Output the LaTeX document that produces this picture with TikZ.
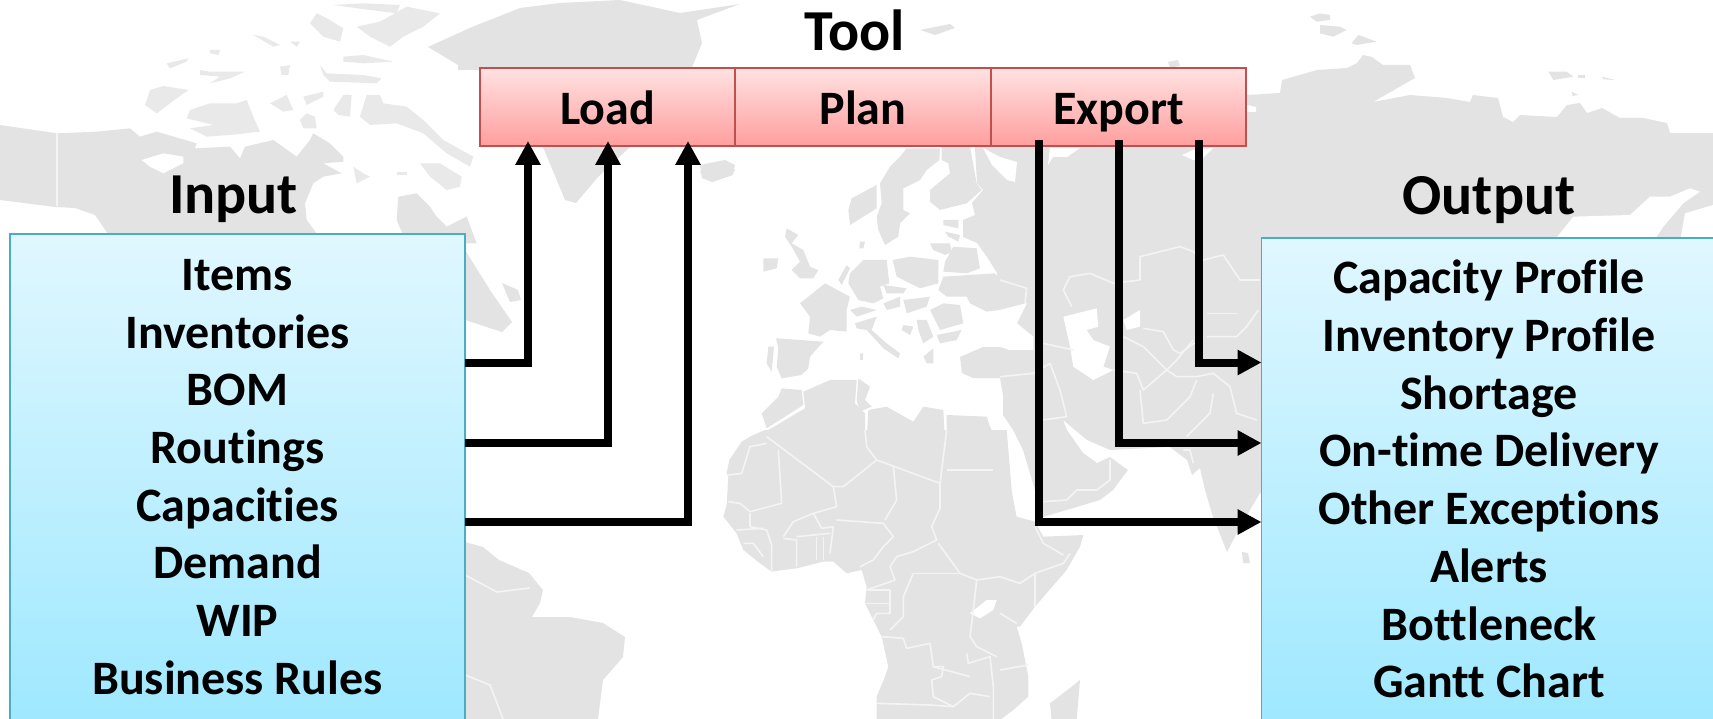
\documentclass[tikz,border=0pt]{standalone}
\usepackage{fontspec}
\setmainfont[Ligatures=CommonOff]{Carlito}
\usetikzlibrary{positioning,arrows.meta}
\definecolor{landgray}{HTML}{E3E3E3}
\definecolor{isle}{HTML}{E9E9E9}
\definecolor{bordergray}{HTML}{F4F4F4}
\definecolor{boxblue}{HTML}{4BACC6}
\definecolor{boxred}{HTML}{C0504D}
\definecolor{bluetop}{HTML}{E0F7FF}
\definecolor{bluebottom}{HTML}{9EE8FF}
\definecolor{redtop}{HTML}{FFE2E2}
\definecolor{redbottom}{HTML}{FF9E9E}
\tikzset{
land/.style={fill=landgray,draw=none},
speck/.style={fill=isle,draw=none},
sea/.style={fill=white,draw=none},
frontier/.style={draw=bordergray,line width=1.6pt,line join=round},
head/.style={font=\fontsize{58}{68}\selectfont\bfseries,inner sep=0pt,anchor=base},
cell/.style={
  minimum width=255.5pt,
  minimum height=78pt,
  inner sep=0pt,
  outer sep=0pt,
  text height=42pt,
  text depth=6pt,
  draw=boxred,
  line width=1.8pt,
  top color=redtop,
  bottom color=redbottom,
  font=\fontsize{48}{57}\selectfont\bfseries,
},
listbox/.style={
  minimum width=455pt,
  inner sep=0pt,
  outer sep=0pt,
  draw=boxblue,
  line width=1.8pt,
  top color=bluetop,
  bottom color=bluebottom,
},
listing/.style={
  font=\fontsize{48}{57.7}\selectfont\bfseries,
  align=center,
  inner sep=0pt,
  anchor=north,
},
flow/.style={line width=8pt,-{Triangle[length=24pt,width=24pt]}},
}
\begin{document}
\begin{tikzpicture}[x=1pt,y=-1pt]
\useasboundingbox (0,0) rectangle (1713,719);
\clip (0,0) rectangle (1713,719);
% north america and the arctic
\begin{scope}[shift={(130,0)},scale=1/3]
  \fill[land] (-390,375) -- (-219,400) -- (-100,395) -- (0,385) -- (30,410) -- (80,395) -- (200,430)
    -- (195,445) -- (300,440) -- (330,475) -- (345,440) -- (430,420) -- (500,470) -- (540,420)
    -- (550,400) -- (600,430) -- (640,470) -- (640,485) -- (580,490) -- (635,520) -- (580,530)
    -- (550,550) -- (525,610) -- (530,660) -- (560,700) -- (560,730) -- (-66,730) -- (-66,702)
    -- (-105,645) -- (-165,624) -- (-225,621) -- (-390,600) -- cycle;
  \fill[sea] (35,480) -- (100,460) -- (160,470) -- (160,490) -- (100,520) -- (60,500) -- cycle;
  \draw[frontier] (-219,400) -- (-219,618);
  \fill[speck] (45,315) -- (60,270) -- (100,258) -- (175,270) -- (120,310) -- (80,340) -- cycle;
  \fill[speck] (180,330) -- (240,310) -- (320,310) -- (350,300) -- (370,350) -- (390,395) -- (300,405)
    -- (230,410) -- (180,385) -- (250,375) -- (170,355) -- cycle;
  \fill[speck] (110,190) -- (175,175) -- (170,185) -- (120,205) -- cycle;
  \fill[speck] (210,210) -- (240,215) -- (345,215) -- (300,235) -- (240,250) -- (270,230) -- (210,225) -- cycle;
  \fill[speck] (240,150) -- (270,150) -- (265,165) -- (240,160) -- cycle;
  \fill[speck] (440,300) -- (470,285) -- (490,330) -- (460,335) -- (420,310) -- cycle;
  \fill[speck] (520,290) -- (580,275) -- (580,290) -- (530,315) -- cycle;
  \fill[speck] (510,360) -- (530,340) -- (555,350) -- (560,385) -- (520,385) -- cycle;
  \fill[speck] (610,330) -- (640,285) -- (665,285) -- (660,350) -- (625,345) -- cycle;
  \fill[speck] (690,350) -- (710,285) -- (750,285) -- (760,310) -- (830,320) -- (880,360) -- (940,420)
    -- (1030,470) -- (1020,500) -- (950,460) -- (880,400) -- (800,370) -- (720,375) -- cycle;
  \fill[speck] (870,490) -- (930,490) -- (995,530) -- (990,560) -- (950,570) -- (900,530) -- cycle;
  \fill[speck] (570,195) -- (590,220) -- (700,225) -- (755,235) -- (740,250) -- (600,245) -- (580,225) -- cycle;
  \fill[speck] (450,200) -- (480,195) -- (475,225) -- (455,225) -- cycle;
  \fill[speck] (540,70) -- (560,40) -- (600,60) -- (640,85) -- (630,125) -- (580,110) -- cycle;
  \fill[speck] (610,15) -- (700,10) -- (810,15) -- (800,40) -- (720,30) -- cycle;
  \fill[speck] (680,80) -- (750,65) -- (830,20) -- (930,40) -- (880,80) -- (820,110) -- (780,140) -- (720,110) -- cycle;
  \fill[speck] (640,170) -- (700,165) -- (790,185) -- (700,190) -- (640,185) -- cycle;
  \fill[speck] (480,125) -- (510,125) -- (500,140) -- cycle;
  \fill[speck] (370,105) -- (400,110) -- (450,135) -- (430,140) -- cycle;
  \fill[speck] (670,500) -- (700,520) -- (720,530) -- (680,550) -- cycle;
  \fill[speck] (800,515) -- (830,515) -- (830,525) -- (800,525) -- cycle;
  \fill[land] (805,590) -- (860,580) -- (900,620) -- (920,650) -- (950,680) -- (1010,650) -- (1040,730)
    -- (830,730) -- (800,660) -- cycle;
\end{scope}
% greenland and the atlantic side
\fill[land] (428,47) -- (472,27) -- (520,8) -- (560,3) -- (620,0) -- (680,13) -- (740,4) -- (697,20) -- (702,43)
  -- (691,70) -- (458,70) -- (458,65) -- cycle;
\fill[land] (543,147) -- (565,200) -- (576,203) -- (598,177) -- (630,147) -- cycle;
\fill[land] (700,165) -- (725,160) -- (735,165) -- (733,175) -- (712,182) -- (702,178) -- cycle;
\fill[land] (465,250) -- (490,290) -- (512,322) -- (502,332) -- (465,320) -- cycle;
\fill[land] (502,283) -- (518,290) -- (521,300) -- (510,302) -- cycle;
% south america
\fill[land] (465,542) -- (483,547) -- (499,560) -- (529,573) -- (543,590) -- (540,603) -- (532,617) -- (570,617)
  -- (603,623) -- (625,637) -- (623,657) -- (603,680) -- (598,719) -- (465,719) -- cycle;
\draw[frontier] (465,575) -- (497,592) -- (530,588);
\draw[frontier] (465,675) -- (490,685) -- (503,719);
% eurasia
\fill[land] (975,140) -- (975,148) -- (977,183) -- (983,190) -- (972,203) -- (975,215) -- (963,220) -- (963,237)
  -- (977,243) -- (987,257) -- (997,273) -- (1000,310) -- (1027,303) -- (1017,323) -- (1033,337) -- (1033,350)
  -- (1010,350) -- (1000,347) -- (983,347) -- (960,357) -- (962,373) -- (973,378) -- (1000,378) -- (1003,395)
  -- (1003,415) -- (1013,430) -- (1023,450) -- (1035,490) -- (1043,517) -- (1100,500) -- (1113,490) -- (1128,470)
  -- (1110,457) -- (1097,463) -- (1083,453) -- (1067,430) -- (1063,420) -- (1087,440) -- (1110,450) -- (1170,447)
  -- (1187,460) -- (1192,475) -- (1200,468) -- (1205,490) -- (1213,517) -- (1227,552) -- (1240,527) -- (1260,493)
  -- (1270,490) -- (1713,490) -- (1713,133) -- (1670,133) -- (1667,123) -- (1643,118) -- (1620,118) -- (1602,108)
  -- (1587,113) -- (1580,103) -- (1567,105) -- (1557,117) -- (1520,115) -- (1513,122) -- (1503,117) -- (1498,98)
  -- (1473,95) -- (1470,102) -- (1447,98) -- (1410,95) -- (1373,102) -- (1415,78) -- (1410,65) -- (1383,65)
  -- (1372,57) -- (1363,55) -- (1357,63) -- (1347,68) -- (1317,70) -- (1282,80) -- (1280,93) -- (1247,95)
  -- (1130,100) -- cycle;
% inner seas
\fill[sea] (983,148) -- (1000,157) -- (1017,162) -- (1015,182) -- (1007,180) -- (1000,173) -- (992,165) -- cycle;
\fill[sea] (1050,148) -- (1080,148) -- (1067,157) -- (1053,157) -- (1048,165) -- cycle;
\fill[sea] (1182,155) -- (1193,160) -- (1203,158) -- (1213,148) -- (1193,150) -- cycle;
\fill[sea] (1247,105) -- (1256,107) -- (1256,112) -- (1247,112) -- cycle;
\begin{scope}[shift={(1000,140)},scale=1/3]
  \fill[sea] (0,510) -- (80,490) -- (50,550) -- (100,590) -- (100,630) -- (30,630) -- (0,620) -- cycle;
  \fill[sea] (190,530) -- (290,505) -- (295,560) -- (260,570) -- (280,600) -- (330,620) -- (310,680) -- (340,690)
    -- (280,720) -- (220,680) -- (210,620) -- cycle;
  \fill[sea] (370,540) -- (420,510) -- (420,560) -- (380,570) -- cycle;
  \draw[frontier] (190,450) -- (210,410) -- (270,400) -- (340,430) -- (420,420) -- (420,350) -- (540,320)
    -- (580,335) -- (610,360) -- (670,345) -- (720,420) -- (780,420);
  \draw[frontier] (190,450) -- (215,500);
  \draw[frontier] (370,590) -- (430,620) -- (500,690) -- (530,660) -- (580,600);
  \draw[frontier] (430,565) -- (490,575) -- (520,630) -- (540,640) -- (610,590);
  \draw[frontier] (0,420) -- (80,445) -- (75,490);
  \draw[frontier] (620,520) -- (710,520);
  \draw[frontier] (620,590) -- (710,590) -- (740,560) -- (775,510);
  \draw[frontier] (340,690) -- (410,700) -- (430,750) -- (500,690) -- (530,710) -- (590,710) -- (640,700)
    -- (690,740) -- (710,820) -- (770,840);
  \draw[frontier] (590,720) -- (570,770) -- (500,840) -- (430,850) -- (420,750);
  \draw[frontier] (150,670) -- (180,750) -- (200,830) -- (130,840);
  \draw[frontier] (0,710) -- (100,700) -- (150,670);
  \draw[frontier] (640,760) -- (630,820) -- (560,890);
  \draw[frontier] (130,610) -- (220,630);
  % south of the gulf
  \draw[frontier] (130,1085) -- (200,1080) -- (230,1050) -- (290,1050) -- (330,1020) -- (330,960);
  \draw[frontier] (550,930) -- (570,930) -- (580,970);
\end{scope}
% europe
\begin{scope}[shift={(700,140)},scale=1/3]
  \fill[land] (0,95) -- (30,75) -- (80,70) -- (105,90) -- (90,105) -- (40,125) -- (10,115) -- cycle;
  \fill[land] (260,265) -- (295,285) -- (275,310) -- (310,330) -- (330,380) -- (355,390) -- (340,415) -- (300,415)
    -- (275,390) -- (300,365) -- (275,320) -- (255,290) -- cycle;
  \fill[land] (190,355) -- (235,355) -- (230,385) -- (190,395) -- cycle;
  \fill[land] (620,25) -- (720,25) -- (718,60) -- (680,90) -- (660,120) -- (610,145) -- (610,210) -- (630,220)
    -- (600,250) -- (595,290) -- (555,315) -- (535,270) -- (530,230) -- (545,190) -- (540,130) -- (570,80) -- (600,50) -- cycle;
  \fill[land] (455,175) -- (530,135) -- (530,205) -- (450,255) -- (445,210) -- cycle;
  \fill[land] (725,20) -- (810,20) -- (830,130) -- (845,150) -- (800,190) -- (720,210) -- (690,185) -- (690,150)
    -- (750,100) -- (745,70) -- (725,60) -- cycle;
  \fill[land] (715,450) -- (730,410) -- (885,400) -- (900,420) -- (900,510) -- (860,515) -- (810,490) -- (800,470)
    -- (740,470) -- cycle;
  \fill[land] (730,240) -- (775,240) -- (775,265) -- (730,255) -- cycle;
  \fill[land] (735,275) -- (780,285) -- (775,305) -- (745,290) -- cycle;
  \fill[land] (690,310) -- (750,310) -- (755,335) -- (735,345) -- (700,330) -- cycle;
  \fill[land] (735,365) -- (760,320) -- (830,325) -- (840,385) -- (800,400) -- (730,395) -- cycle;
  \fill[land] (578,360) -- (630,350) -- (715,360) -- (715,430) -- (660,445) -- (590,410) -- cycle;
  \fill[land] (450,400) -- (490,360) -- (560,360) -- (568,430) -- (540,440) -- (550,475) -- (520,490) -- (475,480) -- (445,430) -- cycle;
  \fill[land] (300,490) -- (375,430) -- (450,470) -- (440,510) -- (440,575) -- (390,570) -- (360,590) -- (325,580) -- (330,530) -- cycle;
  \fill[land] (228,595) -- (370,605) -- (330,650) -- (325,685) -- (305,705) -- (245,715) -- (230,680) -- (235,625) -- cycle;
  \fill[land] (205,620) -- (222,620) -- (215,695) -- (200,670) -- cycle;
  \fill[land] (465,550) -- (530,530) -- (515,570) -- (560,610) -- (600,640) -- (595,655) -- (550,625) -- (500,570) -- (470,565) -- cycle;
  \fill[land] (450,510) -- (485,500) -- (530,510) -- (470,530) -- cycle;
  \fill[land] (610,555) -- (640,560) -- (630,585) -- (605,570) -- cycle;
  \fill[land] (650,540) -- (680,540) -- (700,590) -- (670,610) -- (655,570) -- cycle;
  \fill[land] (550,490) -- (600,470) -- (600,500) -- (560,510) -- cycle;
  \fill[land] (550,435) -- (620,445) -- (610,460) -- (560,460) -- cycle;
  \fill[land] (610,480) -- (690,470) -- (680,500) -- (620,520) -- cycle;
  \fill[land] (690,510) -- (730,490) -- (780,495) -- (790,550) -- (720,570) -- cycle;
  \fill[land] (710,585) -- (785,570) -- (770,600) -- (720,610) -- cycle;
  \fill[land] (670,650) -- (700,625) -- (700,670) -- (680,670) -- cycle;
  \fill[land] (480,305) -- (495,305) -- (490,325) -- (478,325) -- cycle;
  \fill[land] (415,420) -- (440,375) -- (450,385) -- (425,435) -- cycle;
  \fill[land] (480,640) -- (490,640) -- (488,660) -- (480,660) -- cycle;
  % north of africa
  \fill[land] (245,745) -- (305,750) -- (310,795) -- (200,865) -- (185,820) -- (235,770) -- cycle;
  \fill[land] (310,755) -- (390,720) -- (470,720) -- (465,790) -- (495,820) -- (495,900) -- (205,900) -- (205,870) -- (315,805) -- cycle;
  \fill[land] (475,715) -- (510,740) -- (495,780) -- (515,800) -- (480,815) -- (470,780) -- cycle;
  \fill[land] (505,810) -- (560,800) -- (640,845) -- (670,800) -- (730,810) -- (735,900) -- (500,900) -- cycle;
  \fill[land] (740,825) -- (860,830) -- (870,860) -- (890,900) -- (740,900) -- cycle;
\end{scope}
% africa
\begin{scope}[shift={(700,430)},scale=1/3]
  \fill[land] (80,130) -- (88,90) -- (125,35) -- (150,20) -- (195,0) -- (880,0) -- (920,0) -- (935,180) -- (940,210)
    -- (950,260) -- (1005,275) -- (1030,320) -- (1150,315) -- (1140,350) -- (1100,420) -- (1005,530) -- (960,590)
    -- (950,590) -- (965,640) -- (975,690) -- (985,740) -- (985,800) -- (940,840) -- (900,870) -- (530,870)
    -- (530,800) -- (555,740) -- (565,710) -- (545,620) -- (520,570) -- (495,520) -- (500,470) -- (485,420)
    -- (440,430) -- (400,395) -- (370,395) -- (290,415) -- (215,425) -- (180,400) -- (130,360) -- (110,310)
    -- (70,260) -- (80,225) -- (85,140) -- cycle;
  \fill[land] (1050,820) -- (1115,770) -- (1140,750) -- (1135,810) -- (1130,870) -- (1055,870) -- cycle;
  \fill[sea] (810,550) -- (860,510) -- (890,510) -- (880,540) -- (840,565) -- cycle;
  \draw[frontier] (200,20) -- (400,170) -- (410,230) -- (340,250) -- (280,275) -- (250,320);
  \draw[frontier] (235,60) -- (245,220) -- (150,245) -- (120,220) -- (85,215);
  \draw[frontier] (400,170) -- (430,170) -- (530,90) -- (500,50) -- (495,0);
  \draw[frontier] (530,90) -- (720,160) -- (740,0);
  \draw[frontier] (740,120) -- (880,120);
  \draw[frontier] (580,110) -- (590,210) -- (555,270);
  \draw[frontier] (720,160) -- (720,235) -- (695,290) -- (710,330) -- (640,365) -- (590,380) -- (570,410) -- (585,450) -- (500,480);
  \draw[frontier] (715,340) -- (780,430) -- (830,450) -- (820,540) -- (810,620) -- (830,650) -- (890,680);
  \draw[frontier] (640,430) -- (780,430);
  \draw[frontier] (640,430) -- (610,500) -- (610,560) -- (570,600);
  \draw[frontier] (410,270) -- (550,280) -- (580,320) -- (550,350) -- (520,390) -- (480,410);
  \draw[frontier] (400,290) -- (390,370);
  \draw[frontier] (85,135) -- (125,130) -- (150,50) -- (200,40);
  \draw[frontier] (150,250) -- (150,290) -- (200,300) -- (215,345) -- (215,425);
  \draw[frontier] (250,325) -- (290,330) -- (290,410);
  \draw[frontier] (350,320) -- (350,390);
  \draw[frontier] (370,320) -- (370,390);
  \draw[frontier] (290,320) -- (390,310);
  \draw[frontier] (340,250) -- (365,295) -- (400,290);
  \draw[frontier] (110,300) -- (190,295);
  \draw[frontier] (130,340) -- (160,340) -- (190,380);
  \draw[frontier] (545,620) -- (610,625) -- (620,655) -- (690,640) -- (700,710) -- (810,740);
  \draw[frontier] (700,710) -- (730,710) -- (725,740) -- (695,750) -- (700,800) -- (760,830) -- (810,790) -- (870,800);
  \draw[frontier] (530,820) -- (690,825) -- (760,830);
  \draw[frontier] (800,670) -- (805,700) -- (870,680) -- (880,770) -- (880,870);
  \draw[frontier] (495,520) -- (570,520);
  \draw[frontier] (500,480) -- (570,480) -- (570,550) -- (530,550) -- (520,570);
  \draw[frontier] (830,450) -- (900,440) -- (960,460) -- (1005,430) -- (1090,400) -- (1110,370);
  \draw[frontier] (1005,430) -- (1005,530);
  \draw[frontier] (900,550) -- (950,580);
  \draw[frontier] (900,720) -- (985,705);
  \draw[frontier] (1005,290) -- (1030,340) -- (1090,375);
\end{scope}
% india's foot and small islands
\fill[land] (1242,552) -- (1248,553) -- (1250,563) -- (1243,563) -- cycle;
\fill[land] (920,30) -- (950,24) -- (955,28) -- (935,35) -- cycle;
\fill[land] (1168,62) -- (1178,60) -- (1180,66) -- (1170,68) -- cycle;
% siberia, north coast and islands
\begin{scope}[shift={(1240,0)},scale=1/3]
  \fill[sea] (940,725) -- (1000,650) -- (1170,645) -- (1230,590) -- (1290,590) -- (1350,565) -- (1380,575)
    -- (1330,610) -- (1270,680) -- (1240,725) -- cycle;
  \fill[sea] (1320,725) -- (1335,640) -- (1419,615) -- (1419,725) -- cycle;
  \fill[land] (210,50) -- (240,40) -- (270,45) -- (270,60) -- (230,65) -- cycle;
  \fill[land] (240,75) -- (300,80) -- (320,90) -- (280,110) -- (240,100) -- cycle;
  \fill[land] (335,130) -- (355,105) -- (410,125) -- (350,135) -- cycle;
  \fill[land] (925,215) -- (980,215) -- (1000,230) -- (940,240) -- cycle;
  \fill[land] (1015,225) -- (1035,225) -- (1035,233) -- (1015,233) -- cycle;
  \fill[land] (1085,230) -- (1125,240) -- (1090,238) -- cycle;
  \fill[land] (995,275) -- (1015,285) -- (998,288) -- cycle;
\end{scope}
% titles
\node[head] (tooltitle) at (855,51) {Tool};
\node[head] (inputtitle) at (233.5,214) {Input};
\node[head] (outputtitle) at (1489,215) {Output};
% the tool
\node[cell] (load) at (607.5,107) {Load};
\node[cell,right=0pt of load] (plan) {Plan};
\node[cell,right=0pt of plan] (export) {Export};
% input and output lists
\node[listbox,minimum height=491pt] (inbox) at (237.5,479.5) {};
\node[listing] (inlist) at (237.5,259) {Items\\Inventories\\BOM\\Routings\\Capacities\\Demand\\WIP\\Business Rules};
\node[listbox,minimum height=487pt] (outbox) at (1489,481.5) {};
\node[listing] (outlist) at (1489,260) {Capacity Profile\\Inventory Profile\\Shortage\\On-time Delivery\\Other Exceptions\\Alerts\\Bottleneck\\Gantt Chart};
% arrows into load
\draw[flow] ([yshift=117pt]inbox.east) -| ([xshift=-79.5pt,yshift=5pt]load.south);
\draw[flow] ([yshift=36.5pt]inbox.east) -| ([xshift=0.5pt,yshift=5pt]load.south);
\draw[flow] ([yshift=-42.5pt]inbox.east) -| ([xshift=80.5pt,yshift=5pt]load.south);
% arrows out of export
\draw[flow] ([xshift=80pt,yshift=6pt]export.south) |- ([yshift=119pt]outbox.west);
\draw[flow] ([xshift=0pt,yshift=6pt]export.south) |- ([yshift=38.5pt]outbox.west);
\draw[flow] ([xshift=-80pt,yshift=6pt]export.south) |- ([yshift=-40.5pt]outbox.west);
\end{tikzpicture}
\end{document}
